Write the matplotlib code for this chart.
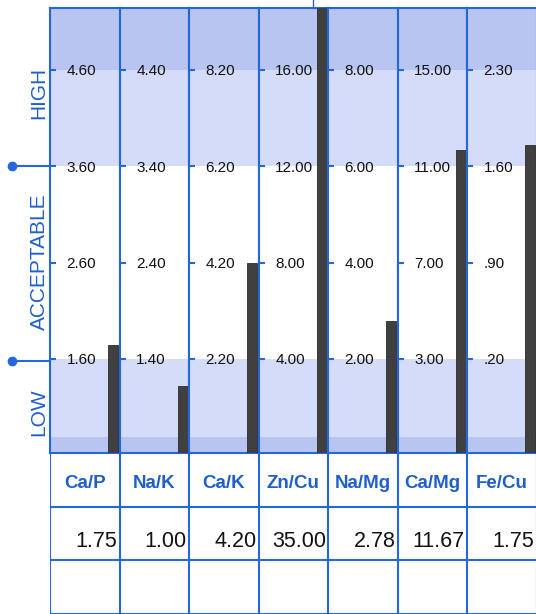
import numpy as np
import matplotlib.pyplot as plt
from matplotlib.ticker import NullLocator

# ratio names and the measured results
ratios = ["Ca/P", "Na/K", "Ca/K", "Zn/Cu", "Na/Mg", "Ca/Mg", "Fe/Cu"]
results = [1.75, 1.00, 4.20, 35.00, 2.78, 11.67, 1.75]
result_labels = ["1.75", "1.00", "4.20", "35.00", "2.78", "11.67", "1.75"]

# reference levels printed on each ratio's scale (low -> high)
levels = [
    [1.60, 2.60, 3.60, 4.60],
    [1.40, 2.40, 3.40, 4.40],
    [2.20, 4.20, 6.20, 8.20],
    [4.00, 8.00, 12.00, 16.00],
    [2.00, 4.00, 6.00, 8.00],
    [3.00, 7.00, 11.00, 15.00],
    [0.20, 0.90, 1.60, 2.30],
]
level_labels = [
    ["1.60", "2.60", "3.60", "4.60"],
    ["1.40", "2.40", "3.40", "4.40"],
    ["2.20", "4.20", "6.20", "8.20"],
    ["4.00", "8.00", "12.00", "16.00"],
    ["2.00", "4.00", "6.00", "8.00"],
    ["3.00", "7.00", "11.00", "15.00"],
    [".20", ".90", "1.60", "2.30"],
]
zones = ["HIGH", "ACCEPTABLE", "LOW"]

W, H = 536, 614
plt.rcParams["font.family"] = ["Liberation Sans Narrow", "Liberation Sans", "DejaVu Sans"]
fig = plt.figure(figsize=(W / 100, H / 100), dpi=100)

blue = "#2466dc"
text_blue = "#1f5fcc"
band_dark = "#b7c5f0"
band_light = "#d5dcf9"
bar_col = "#404040"


def px_box(x0, y0, x1, y1):
    # pixel box (top-left origin) -> figure fraction rect
    return [x0 / W, 1 - y1 / H, (x1 - x0) / W, (y1 - y0) / H]


left, right = 50, 536.5
top, bottom = 8, 453
cw = (right - left) / 7
chart_h = bottom - top

# where the 4 levels sit, in px up from the chart bottom
level_px = [0, 94, 190.5, 287, 383.5]
step_px = 96.5


def make_scale(lv):
    # piecewise linear: 0 at bottom, then one level per step
    step = lv[3] - lv[2]
    xp = [0] + list(lv) + [lv[3] + 50 * step]
    fp = level_px + [level_px[-1] + 50 * step_px]
    fwd = lambda v: np.interp(v, xp, fp)
    inv = lambda p: np.interp(p, fp, xp)
    return fwd, inv


for i, name in enumerate(ratios):
    lv = levels[i]
    fwd, inv = make_scale(lv)
    ax = fig.add_axes(px_box(left + i * cw, top, left + (i + 1) * cw, bottom))
    ax.set_yscale("function", functions=(fwd, inv))
    ymax = float(inv(chart_h))

    # HIGH / LOW shading
    ax.axhspan(lv[2], ymax, color=band_light, lw=0)
    ax.axhspan(lv[3], ymax, color=band_dark, lw=0)
    ax.axhspan(0, lv[0], color=band_light, lw=0)
    ax.axhspan(0, float(inv(16)), color=band_dark, lw=0)

    ax.bar(0.985, results[i], width=-0.145, align="edge", color=bar_col,
           edgecolor="#2b2b2b", lw=0.6, zorder=3)

    ax.set_xlim(0, 1)
    ax.set_ylim(0, ymax)
    ax.set_xticks([])
    ax.set_yticks(lv, labels=level_labels[i])
    ax.yaxis.set_minor_locator(NullLocator())
    ax.tick_params(axis="y", direction="in", length=4.5, width=1.5, color=blue,
                   pad=-12, labelsize=11, labelcolor="#111111")
    for lab in ax.get_yticklabels():
        lab.set_horizontalalignment("left")
    for s in ax.spines.values():
        s.set_color(blue)
        s.set_linewidth(1.5)

# table below the chart
tab = fig.add_axes(px_box(left, bottom, right, H))
tab.set_xlim(0, 7)
tab.set_ylim(3, 0)
tab.axis("off")
for k in range(8):
    tab.axvline(k, color=blue, lw=1.5)
for r in (1, 2, 3):
    tab.axhline(r, color=blue, lw=1.5)
for i, name in enumerate(ratios):
    tab.text(i + 0.5, 0.57, name, ha="center", va="center", color=text_blue,
             fontsize=13.5, fontweight="bold")
    tab.text(i + 0.97, 1.64, result_labels[i], ha="right", va="center",
             fontsize=15.5, color="#111111")

# left side markers and zone names
ov = fig.add_axes([0, 0, 1, 1])
ov.set_xlim(0, W)
ov.set_ylim(H, 0)
ov.axis("off")
ov.patch.set_alpha(0)
for yy in (166, 361):
    ov.plot([12, 50], [yy, yy], color=blue, lw=1.5)
    ov.plot(12, yy, "o", ms=6, color=blue)
for txt, yy in zip(zones, (93, 262, 412)):
    ov.text(39, yy, txt, rotation=90, ha="center", va="center",
            color=text_blue, fontsize=15)
ov.plot([313, 313], [0, 8], color="#3b5fb0", lw=1)

fig.savefig("out.png", dpi=100)
